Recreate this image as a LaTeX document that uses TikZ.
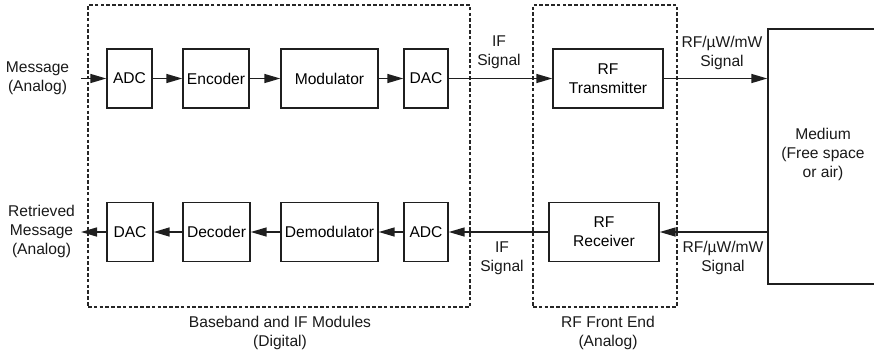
\documentclass[tikz,border=0pt]{standalone}
\usepackage{fontspec}
\setmainfont{Liberation Sans}
\usetikzlibrary{arrows.meta}
\begin{document}
\begin{tikzpicture}[x=1pt,y=-1pt,
  font=\fontsize{15.6}{19}\selectfont,
  ink/.style={draw=black!88, line width=1.4pt},
  block/.style={ink, rectangle, inner sep=0pt, minimum height=59pt, align=center},
  group/.style={draw=black!85, line width=1.2pt, dash pattern=on 3.6pt off 2.2pt, rectangle, inner sep=0pt},
  lbl/.style={align=center, inner sep=0pt, text=black!90},
  flow/.style={draw=black!88, line width=1.5pt, -{Triangle[length=16pt,width=9pt]}}
]
\useasboundingbox (0,0) rectangle (874,354);

% dashed groupings
\node[group, minimum width=382pt, minimum height=302pt] (bb) at (279,156) {};
\node[group, minimum width=144pt, minimum height=302pt] (fe) at (605,156) {};
\node[lbl] (bbcap) at (280,332.5) {Baseband and IF Modules\\(Digital)};
\node[lbl] (fecap) at (608,332.5) {RF Front End\\(Analog)};

% transmit chain
\node[block, minimum width=45pt] (adcT) at (129.5,78.5) {ADC};
\node[block, minimum width=66pt] (enc) at (216,78.5) {Encoder};
\node[block, minimum width=97pt] (mod) at (329.5,78.5) {Modulator};
\node[block, minimum width=44pt] (dacT) at (426,78.5) {DAC};
\node[block, minimum width=110pt] (tx) at (608,78.5) {RF\\Transmitter};

% receive chain
\node[block, minimum width=46pt] (dacR) at (130,232) {DAC};
\node[block, minimum width=67pt] (dec) at (216.5,232) {Decoder};
\node[block, minimum width=97pt] (demod) at (329.5,232) {Demodulator};
\node[block, minimum width=44pt] (adcR) at (426,232) {ADC};
\node[block, minimum width=110pt] (rx) at (604,232) {RF\\Receiver};

% propagation medium (runs off the right edge)
\node[ink, rectangle, minimum width=114pt, minimum height=255pt, inner sep=0pt, align=center] (med) at (825,156.5) {};
\node[lbl] (medtxt) at (823,154.5) {Medium\\(Free space\\or air)};

% end-point texts
\node[lbl] (msg) at (37.5,78.5) {Message\\(Analog)};
\node[lbl] (ret) at (41.5,231) {Retrieved\\Message\\(Analog)};
\coordinate (msgin) at (81,78.5);
\coordinate (retout) at (81,232);

% signal labels
\node[lbl] (ifT) at (499,52.5) {IF\\Signal};
\node[lbl] (rfT) at (722,52.5) {RF/µW/mW\\Signal};
\node[lbl] (ifR) at (502,258) {IF\\Signal};
\node[lbl] (rfR) at (723,258) {RF/µW/mW\\Signal};

% transmit connectors
\draw[flow] (msgin) -- (adcT.west);
\draw[flow] (adcT) -- (enc);
\draw[flow] (enc) -- (mod);
\draw[flow] (mod) -- (dacT);
\draw[flow] (dacT) -- (tx);
\draw[flow] (tx.east) -- (med.west |- tx.east);

% receive connectors
\draw[flow] (med.west |- rx.east) -- (rx.east);
\draw[flow] (rx) -- (adcR);
\draw[flow] (adcR) -- (demod);
\draw[flow] (demod) -- (dec);
\draw[flow] (dec) -- (dacR);
\draw[flow] (dacR.west) -- (retout);
\end{tikzpicture}
\end{document}
